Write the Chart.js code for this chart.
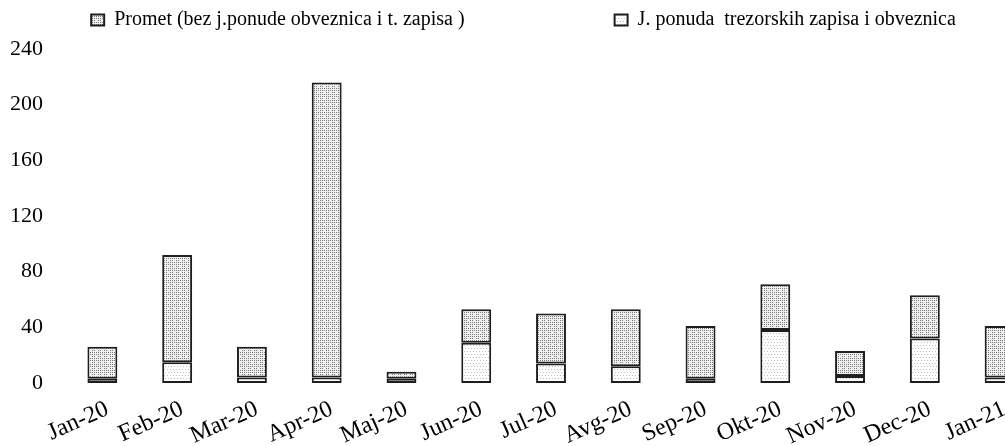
<!DOCTYPE html>
<html>
<head>
<meta charset="utf-8">
<script src="https://cdn.jsdelivr.net/npm/chart.js@4.4.1/dist/chart.umd.min.js"></script>
<style>
  body { margin: 0; background: #fff; overflow: hidden; }
  #wrap { width: 1045px; height: 446px; }
</style>
</head>
<body>
<div id="wrap"><canvas id="barChart" width="1045" height="446"></canvas></div>
<script>
var months = ['Jan-20','Feb-20','Mar-20','Apr-20','Maj-20','Jun-20','Jul-20','Avg-20','Sep-20','Okt-20','Nov-20','Dec-20','Jan-21'];
var promet = [23, 77, 22, 212, 5, 24, 36, 41, 38, 33, 18, 31, 37];
var ponuda = [3, 15, 4, 4, 3, 29, 14, 12, 3, 38, 5, 32, 4];
var yTicks = [0, 40, 80, 120, 160, 200, 240];

// stippled fills, like the scanned original
function dots(bg, fg, step) {
  var c = document.createElement('canvas');
  c.width = 6; c.height = 6;
  var g = c.getContext('2d');
  g.fillStyle = bg;
  g.fillRect(0, 0, 6, 6);
  g.fillStyle = fg;
  for (var y = 0; y < 6; y += step) {
    for (var x = (y % 4 === 0 ? 0 : 2); x < 6; x += step) {
      g.fillRect(x, y, 1, 1);
    }
  }
  return g.createPattern(c, 'repeat');
}
var ctx = document.getElementById('barChart').getContext('2d');
var darkFill = dots('#f0f0f0', '#7a7a7a', 2);
var lightFill = dots('#ffffff', '#bdbdbd', 3);

Chart.defaults.font.family = '"Liberation Serif", "Times New Roman", serif';
Chart.defaults.color = '#000';

// em spaces push the second legend entry to the right
var gap = '\u2003\u2003\u2003\u2003\u2003\u2003\u2003';

var myChart = new Chart(ctx, {
  type: 'bar',
  data: {
    labels: months,
    datasets: [{
      label: 'J. ponuda  trezorskih zapisa i obveznica',
      data: ponuda,
      backgroundColor: lightFill,
      borderColor: '#1e1e1e',
      borderWidth: 2,
      borderSkipped: false
    }, {
      label: 'Promet (bez j.ponude obveznica i t. zapisa )' + gap,
      data: promet,
      backgroundColor: darkFill,
      borderColor: '#1e1e1e',
      borderWidth: 2,
      borderSkipped: false
    }]
  },
  options: {
    responsive: false,
    animation: false,
    layout: { padding: { left: 10, right: 8, top: 0, bottom: 0 } },
    datasets: { bar: { categoryPercentage: 1, barPercentage: 0.4 } },
    plugins: {
      legend: {
        position: 'top',
        reverse: true,
        labels: {
          boxWidth: 13,
          boxHeight: 11,
          padding: 10,
          font: { size: 20 },
          color: '#000'
        }
      },
      tooltip: { enabled: false }
    },
    scales: {
      x: {
        stacked: true,
        grid: { display: false, drawTicks: false },
        border: { display: false },
        ticks: {
          autoSkip: false,
          minRotation: 24,
          maxRotation: 24,
          padding: 12,
          labelOffset: 5,
          font: { size: 24 },
          color: '#000'
        },
        afterFit: function(scale) {
          scale.paddingLeft = 0;
          scale.paddingRight = 0;
          scale.height = 63;
        }
      },
      y: {
        stacked: true,
        min: 0,
        max: 240,
        afterBuildTicks: function(axis) {
          axis.ticks = yTicks.map(function(v) { return { value: v }; });
        },
        grid: { display: false, drawTicks: false },
        border: { display: false },
        ticks: {
          padding: 22,
          font: { size: 22 },
          color: '#000'
        },
        afterFit: function(scale) {
          scale.width = 55;
        }
      }
    }
  },
  plugins: [{
    id: 'legendMargin',
    beforeInit: function(chart) {
      var fit = chart.legend.fit;
      chart.legend.fit = function() {
        fit.bind(chart.legend)();
        this.height += 9;
      };
    }
  }]
});
</script>
</body>
</html>
